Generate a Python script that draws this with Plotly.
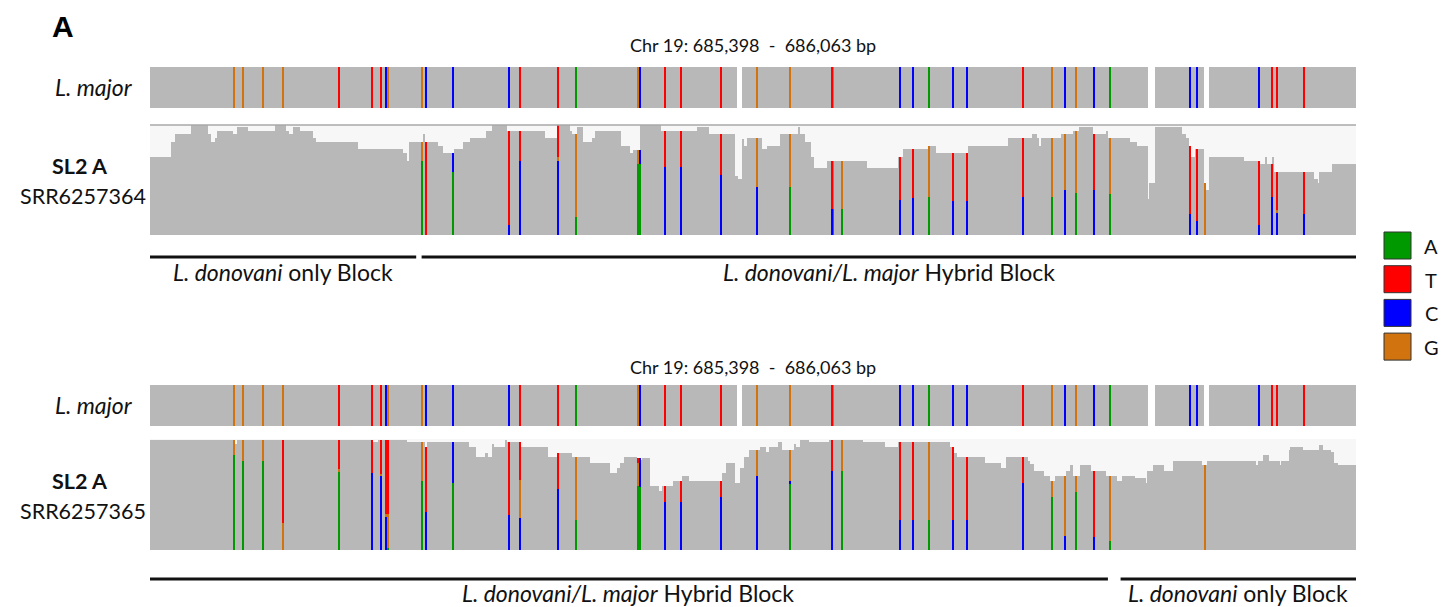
import numpy as np
import plotly.graph_objects as go

W, H = 1442, 607
START, END = 685398, 686063
N = END - START + 1

BASES = ["A", "C", "G", "T"]          # stacking order bottom -> top
BASE_COLORS = {"A": "#009a00", "T": "#ff0000", "C": "#0000ff", "G": "#d1730f"}
LEGEND_ORDER = ["A", "T", "C", "G"]
GRAY = "#b8b8b8"

# L. major reference track: SNP offsets (bp from START) and their base
LMAJ_POS = [46, 51, 62, 73, 104, 122, 127, 130, 131, 150, 152, 167, 198, 204, 225, 235,
            269, 270, 284, 293, 315, 335, 353, 376, 377, 414, 421, 430, 443, 451, 482,
            498, 505, 511, 521, 530, 574, 578, 612, 619, 622, 637]
LMAJ_BASE = ["G", "G", "G", "G", "T", "T", "T", "C", "G", "G", "C", "C", "C", "T", "T", "A",
             "G", "C", "T", "T", "T", "G", "G", "T", "G", "C", "C", "A", "C", "C", "T",
             "G", "C", "G", "C", "A", "C", "C", "C", "T", "T", "T"]
LMAJ_GAPS = [(324, 327), (551, 555), (582, 585)]   # no reads [start, end)

# Coverage, SRR6257364 : (start offset, depth) steps
COV1_STEPS = [(0, 78), (12, 93), (14, 101), (23, 110), (32, 101), (34, 93), (36, 97), (37, 104),
              (46, 101), (48, 108), (54, 104), (69, 110), (75, 104), (77, 101), (79, 108), (83, 104),
              (90, 97), (92, 93), (115, 86), (140, 82), (142, 74), (143, 93), (151, 101), (152, 93),
              (159, 89), (162, 82), (168, 86), (173, 93), (177, 97), (186, 104), (189, 110), (197, 104),
              (218, 97), (225, 110), (232, 104), (233, 101), (236, 108), (239, 93), (244, 97), (246, 104),
              (260, 89), (265, 82), (267, 85), (271, 110), (282, 104), (302, 108), (309, 101), (323, 59),
              (325, 56), (327, 96), (328, 89), (330, 97), (338, 86), (341, 89), (348, 101), (358, 108),
              (359, 101), (362, 93), (365, 78), (367, 67), (374, 74), (396, 67), (413, 78), (416, 86),
              (430, 89), (434, 82), (452, 89), (474, 97), (487, 101), (490, 97), (491, 89), (492, 97),
              (503, 101), (510, 104), (513, 108), (521, 101), (528, 104), (529, 97), (541, 93), (545, 89),
              (551, 36), (552, 52), (555, 108), (570, 101), (572, 97), (574, 89), (575, 78), (577, 86),
              (582, 52), (583, 45), (585, 78), (604, 74), (613, 71), (616, 78), (617, 71), (620, 78),
              (621, 63), (643, 56), (645, 52), (646, 63), (653, 71)]
SNP1_POS = [150, 152, 167, 198, 204, 225, 235, 269, 270, 284, 293, 315, 335, 353, 376, 377, 382,
            414, 421, 430, 443, 451, 482, 498, 505, 511, 521, 530, 574, 578, 582, 612, 619, 622, 637]
SNP1_A = [.80, 0, .77, 0, 0, 0, .18, .83, .83, 0, 0, 0, 0, .48, 0, .35, .35,
          0, 0, .43, 0, 0, 0, .39, 0, .40, 0, .42, 0, 0, 0, 0, 0, 0, 0]
SNP1_C = [0, 0, .23, .10, .71, .67, 0, 0, .17, .65, .65, .59, .50, 0, .35, 0, 0,
          .45, .43, 0, .41, .41, .39, 0, .45, 0, .45, 0, .24, .16, 0, .14, .53, .35, .34]
SNP1_G = [.20, 0, 0, 0, 0, .04, .82, .17, 0, 0, 0, 0, .50, .52, 0, .65, .65,
          0, 0, .57, 0, 0, 0, .61, .55, .60, 0, .58, 0, 0, 1, 0, 0, .05, 0]
SNP1_T = [0, 1, 0, .90, .29, .29, 0, 0, 0, .35, .35, .41, 0, 0, .65, 0, 0,
          .55, .57, 0, .59, .59, .61, 0, 0, 0, .55, 0, .76, .84, 0, .86, .47, .60, .66]

# Coverage, SRR6257365
COV2_STEPS = [(0, 110), (47, 106), (48, 110), (123, 108), (126, 110), (142, 108), (152, 103), (153, 108),
              (176, 103), (180, 93), (185, 97), (187, 93), (189, 106), (190, 103), (196, 110), (197, 108),
              (205, 103), (220, 93), (225, 97), (233, 93), (243, 87), (254, 77), (258, 82), (260, 87),
              (262, 93), (269, 92), (271, 90), (272, 92), (276, 64), (281, 59), (283, 64), (289, 69),
              (294, 74), (298, 69), (316, 77), (318, 87), (323, 67), (326, 82), (328, 93), (331, 100),
              (337, 103), (340, 98), (342, 103), (347, 108), (349, 100), (356, 106), (357, 103), (359, 110),
              (364, 108), (375, 110), (394, 108), (406, 103), (413, 108), (442, 103), (444, 97), (446, 93),
              (461, 87), (470, 82), (473, 93), (485, 89), (486, 86), (488, 79), (494, 74), (497, 69),
              (500, 74), (506, 79), (508, 85), (510, 74), (514, 85), (520, 79), (528, 74), (534, 69),
              (537, 74), (544, 72), (550, 67), (551, 79), (554, 85), (560, 79), (565, 89), (581, 85),
              (584, 89), (611, 85), (612, 89), (615, 95), (618, 89), (624, 85), (625, 89), (629, 100),
              (630, 103), (637, 100), (646, 105), (648, 100), (652, 98), (654, 87), (656, 85)]
SNP2_POS = [46, 51, 62, 73, 104, 122, 127, 130, 131, 150, 152, 167, 198, 204, 225, 235, 269, 270,
            284, 293, 315, 335, 353, 376, 382, 414, 421, 430, 443, 451, 482, 498, 505, 511, 521, 530, 582]
SNP2_A = [.86, .81, .81, 0, .71, 0, 0, 0, .02, .64, 0, .62, 0, 0, 0, .32, .70, .68,
          0, 0, 0, 0, .66, 0, .72, 0, 0, .28, 0, 0, 0, .77, 0, .78, 0, .12, 0]
SNP2_C = [0, 0, 0, 0, 0, .70, .67, .30, 0, 0, .37, .38, .32, .30, .63, 0, 0, .32,
          .75, .70, .77, .74, .03, .72, 0, .28, .28, 0, .29, .32, .72, 0, .19, 0, .16, 0, 0]
SNP2_G = [.14, .19, .19, .25, .03, 0, .02, .03, .31, .36, 0, 0, 0, .35, 0, .68, .25, 0,
          0, 0, 0, .26, .31, 0, .28, 0, 0, .72, 0, 0, 0, .23, .81, .22, 0, .88, 1]
SNP2_T = [0, 0, 0, .75, .26, .30, .31, .67, .67, 0, .63, 0, .68, .35, .37, 0, .05, 0,
          .25, .30, .23, 0, 0, .28, 0, .72, .72, 0, .71, .68, .28, 0, 0, 0, .84, 0, 0]

# Haplotype blocks (offsets) and labels
BLOCKS1 = [(0, 147, "<i>L. donovani</i> only Block"), (150, 666, "<i>L. donovani/L. major</i> Hybrid Block")]
BLOCKS2 = [(-1, 529, "<i>L. donovani/L. major</i> Hybrid Block"), (536, 666, "<i>L. donovani</i> only Block")]

TITLE = "Chr 19: 685,398  -  686,063 bp"
FONT = "Lato"
INK = "#111111"

pos = np.arange(START, END + 1)


def px_x(p):
    return p / W


def px_y(p):
    return 1 - p / H


def expand(steps):
    d = np.zeros(N)
    for i, (s, v) in enumerate(steps):
        e = steps[i + 1][0] if i + 1 < len(steps) else N
        d[s:e] = v
    return d


fig = go.Figure()
BW = 0.8


def add_lmajor(yax):
    depth = np.ones(N)
    for s, e in LMAJ_GAPS:
        depth[s:e] = 0
    mask = depth > 0
    mask[LMAJ_POS] = False
    fig.add_trace(go.Bar(x=pos[mask], y=depth[mask], marker=dict(color=GRAY, line=dict(width=0)),
                         width=BW, yaxis=yax, showlegend=False, hoverinfo="skip"))
    for b in BASES:
        xs = [START + p for p, bb in zip(LMAJ_POS, LMAJ_BASE) if bb == b]
        fig.add_trace(go.Bar(x=xs, y=[1] * len(xs), marker=dict(color=BASE_COLORS[b], line=dict(width=0)),
                             width=BW, yaxis=yax, showlegend=False, hoverinfo="skip"))


def add_coverage(yax, steps, snp_pos, fr):
    depth = expand(steps)
    mask = depth > 0
    mask[snp_pos] = False
    fig.add_trace(go.Bar(x=pos[mask], y=depth[mask], marker=dict(color=GRAY, line=dict(width=0)),
                         width=BW, yaxis=yax, showlegend=False, hoverinfo="skip"))
    for b in BASES:
        xs, ys = [], []
        for i, p in enumerate(snp_pos):
            f = fr[b][i]
            if f > 0:
                xs.append(START + p)
                ys.append(depth[p] * f)
        fig.add_trace(go.Bar(x=xs, y=ys, marker=dict(color=BASE_COLORS[b], line=dict(width=0)),
                             width=BW, yaxis=yax, showlegend=False, hoverinfo="skip"))


add_lmajor("y")
add_coverage("y2", COV1_STEPS, SNP1_POS, {"A": SNP1_A, "C": SNP1_C, "G": SNP1_G, "T": SNP1_T})
add_lmajor("y3")
add_coverage("y4", COV2_STEPS, SNP2_POS, {"A": SNP2_A, "C": SNP2_C, "G": SNP2_G, "T": SNP2_T})

XL, XR = 150, 1356
shapes = []
annotations = []


def label(text, x, y, size, xref="paper", family=FONT, color=INK):
    annotations.append(dict(text=text, x=x, y=y, xref=xref, yref="paper", showarrow=False,
                            xanchor="center", yanchor="middle",
                            font=dict(size=size, family=family, color=color)))


# panels: (title_y, lmaj top, lmaj bottom, cov top, cov bottom, block line y, block label y, sample)
PANELS = [
    (45, 67, 108, 125, 235, 257, 272, "SRR6257364", BLOCKS1, True),
    (367, 385, 426, 439, 550, 579, 593, "SRR6257365", BLOCKS2, False),
]
for (ty, lt, lb, ct, cb, by, bly, sample, blocks, topline) in PANELS:
    shapes.append(dict(type="rect", xref="paper", yref="paper", x0=px_x(XL), x1=px_x(XR),
                       y0=px_y(cb), y1=px_y(ct), fillcolor="#f7f7f7", line=dict(width=0), layer="below"))
    if topline:
        shapes.append(dict(type="line", xref="paper", yref="paper", x0=px_x(XL), x1=px_x(XR),
                           y0=px_y(ct), y1=px_y(ct), line=dict(color="#a8a8a8", width=1.5)))
    label(TITLE, px_x(753), px_y(ty), 18)
    label("<i>L. major</i>", px_x(94), px_y((lt + lb) / 2 - 1), 23)
    cm = (ct + cb) / 2
    label("<b>SL2 A</b>", px_x(80), px_y(cm - 14), 21.5)
    label(sample, px_x(83), px_y(cm + 16), 21.5)
    for s, e, lab in blocks:
        x0 = START - 0.5 + s
        x1 = START - 0.5 + e
        shapes.append(dict(type="line", xref="x", yref="paper", x0=x0, x1=x1, y0=px_y(by), y1=px_y(by),
                           line=dict(color=INK, width=3)))
        label(lab, (x0 + x1) / 2, px_y(bly), 23, xref="x")

label("<b>A</b>", px_x(63), px_y(26), 30, family="Liberation Sans", color="#000")

# legend
for i, b in enumerate(LEGEND_ORDER):
    top = 232 + i * 33.7
    shapes.append(dict(type="rect", xref="paper", yref="paper", x0=px_x(1384), x1=px_x(1411),
                       y0=px_y(top + 27), y1=px_y(top), fillcolor=BASE_COLORS[b],
                       line=dict(color="#333", width=1)))
    label(b, px_x(1431), px_y(top + 14), 20)

ax_common = dict(visible=False, fixedrange=True)
fig.update_layout(
    width=W, height=H, margin=dict(l=0, r=0, t=0, b=0),
    paper_bgcolor="white", plot_bgcolor="rgba(0,0,0,0)",
    barmode="stack", bargap=0,
    xaxis=dict(domain=[px_x(XL), px_x(XR)], range=[START - 0.5, END + 0.5], **ax_common),
    yaxis=dict(domain=[px_y(108), px_y(67)], range=[0, 1], anchor="x", **ax_common),
    yaxis2=dict(domain=[px_y(235), px_y(125)], range=[0, 110], anchor="x", **ax_common),
    yaxis3=dict(domain=[px_y(426), px_y(385)], range=[0, 1], anchor="x", **ax_common),
    yaxis4=dict(domain=[px_y(550), px_y(439)], range=[0, 111], anchor="x", **ax_common),
    shapes=shapes, annotations=annotations, showlegend=False,
)

fig.write_html("out.html", config={"displayModeBar": False},
               post_script="document.body.style.margin='0';document.body.style.overflow='hidden';")
